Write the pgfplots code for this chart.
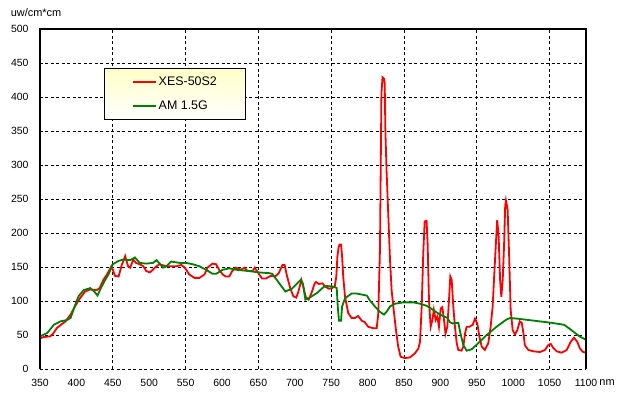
\documentclass[border=0pt]{standalone}
\usepackage{pgfplots}
\pgfplotsset{compat=1.18}
\usepackage{fontspec}
\setmainfont{Liberation Sans}
\definecolor{xesred}{RGB}{255,0,0}
\definecolor{amgreen}{RGB}{0,128,0}
\definecolor{legtop}{RGB}{255,255,200}
\begin{document}
\begin{tikzpicture}
\useasboundingbox (-40bp,-25bp) rectangle (581bp,369bp);
\begin{axis}[
  scale only axis,
  width=546bp, height=340bp,
  xmin=350, xmax=1100, ymin=0, ymax=500,
  xtick={350,400,...,1100},
  ytick={0,50,...,500},
  minor xtick={450,550,650,750,850,950,1050},
  xminorgrids=true, ymajorgrids=true, xmajorgrids=false,
  major tick length=0pt, minor tick length=0pt,
  grid style={black, line width=0.8bp, dash pattern=on 3bp off 2.5bp},
  minor grid style={black, line width=0.8bp, dash pattern=on 3bp off 2.5bp},
  axis line style={draw=none},
  clip=false,
  /pgf/number format/assume math mode=true,
  /pgf/number format/1000 sep={},
  tick label style={font=\fontsize{10.5}{12}\selectfont, black},
  yticklabel style={xshift=-8bp},
  xticklabel style={yshift=-6.5bp},
  every axis y label/.style={at={(axis description cs:-0.06,1.049)}, anchor=west, font=\fontsize{11}{13}\selectfont},
  every axis x label/.style={at={(axis description cs:1.0385,-0.041)}, anchor=center, font=\fontsize{11}{13}\selectfont},
  ylabel={uw/cm*cm},
  xlabel={nm},
  legend cell align=left,
  legend image code/.code={\draw[#1] (0bp,0bp) -- (23bp,0bp);},
  legend style={at={(axis description cs:0.118,0.884)}, anchor=north west,
    draw=black, line width=1bp, top color=legtop, bottom color=white,
    font=\fontsize{12.5}{15}\selectfont, inner xsep=27bp, inner ysep=6bp,
    row sep=10bp},
]
\addplot[xesred, line width=1.8bp] coordinates {
(350,45)(355,47)(364,48)(368,52)(373,60)(380,66)(385,70)(392,80)(398,92)(405,104)
(412,114)(419,117)(428,116)(432,119)(437,131)(442,139)(448,151)(450,146)(453,137)(458,136)
(462,152)(467,166)(471,151)(474,149)(478,161)(482,156)(487,154)(492,151)(496,144)(501,142)
(505,146)(510,151)(514,154)(524,151)(537,151)(544,153)(549,149)(555,139)(562,134)(569,134)
(576,139)(580,149)(587,155)(592,154)(596,146)(601,139)(605,136)(610,136)(614,144)(619,149)
(626,146)(631,149)(635,144)(642,144)(645,149)(648,144)(655,133)(660,133)(667,137)(673,136)
(678,141)(683,153)(686,153)(689,138)(694,118)(698,107)(702,105)(705,114)(709,131)(712,120)
(715,106)(719,102)(723,112)(727,125)(729,128)(733,125)(738,126)(742,121)(747,118)(751,119)
(755,122)(757,136)(758.5,165)(760,178)(761.5,183)(763.5,183)(765,165)(766.5,136)(769,106)(773.5,82)
(778,75)(782.5,75)(787,78)(792,71)(796,69)(801,62)(808,60)(812.5,60)(814.7,82)(817,176)
(818,293)(819,405)(820.5,429)(822.5,427)(823.5,420)(824.4,351)(826,293)(828.5,224)(830.8,160)(833,116)(835.3,92)
(839,57)(842,33)(845.4,18)(851,16)(858,17)(865,23)(869.7,30)(872,40)(874.3,92)(876.5,172)
(878.4,217)(881,218)(882.5,183)(884.3,101)(886.6,62)(889,72)(891,87)(893.5,72)(895.8,77)(898,62)
(900.4,89)(902.6,91)(905,72)(907,52)(909.5,62)(911.8,101)(913.6,136)(915.5,131)(917.7,92)(920,62)
(922.4,38)(924.6,28)(929,27)(931.5,33)(933.8,52)(936,62)(939.7,62)(944.4,65)(947.5,74)(950.7,67)
(953.5,48)(956.7,33)(961,28)(965.8,38)(969,62)(971.8,92)(973.6,131)(976,180)(978,219)(980,195)
(982,131)(983.7,106)(985.6,131)(987.4,180)(989,240)(990,248)(991.5,240)(992.4,233)(994.6,160)(996.5,87)(999.3,57)(1002.5,51)
(1005.6,57)(1009,70)(1011.7,68)(1014,53)(1016,35)(1020.8,28)(1027.6,26)(1036.8,25)(1043.7,28)(1048,35)
(1051.5,37)(1055,31)(1059.6,26)(1066.6,24)(1073.5,28)(1079,40)(1083.5,46)(1088,40)(1091.7,30)(1096,25)
(1100,24)
};
\addlegendentry{XES-50S2}
\addplot[amgreen, line width=1.8bp] coordinates {
(350,48)(360,53)(369,65)(378,70)(387,72)(392,75)(398.6,95)(403,107)(410,116)(419,119)
(424.5,114)(429,108)(432.7,117)(439.5,131)(444,139)(450,154)(458,159)(464.5,161)(473.6,160)(480.5,164)
(487,156)(496,155)(505,156)(510,160)(513.6,156)(519,149)(523.6,151)(530,158)(542,156)(551,156)
(560,154)(569,151)(578,146)(587,140)(592,140)(601,146)(610,148)(619,146)(628,145)(637,144)
(651,142)(664.5,141)(669,140)(678,127)(687,114)(696,118)(708,131)(711,126)(714.5,102)(719,104)
(730.7,112)(740,121)(744,122)(753.7,121)(757.6,119)(759,92)(760.7,71)(763.5,71)(765,92)(769,104)
(778,111)(785,111)(799,108)(803,101)(810,92)(817,84)(822.5,80)(826,84)(830.8,92)(837.6,96)
(849,98)(862.8,98)(872,96)(881,93)(885.7,90)(891,86)(899.5,80)(909.6,75)(913,69)(916.5,67)
(924.6,68)(927,55)(931.5,35)(936,27)(943,29)(952,38)(963.6,50)(977,62)(991,73)(996,75)
(1006,74)(1029,71)(1052,68)(1070,65)(1079,58)(1091,48)(1100,43)
};
\addlegendentry{AM 1.5G}
\draw[black, line width=1.2bp] (350,0) -- (350,500) -- (1100,500) -- (1100,0);
\end{axis}
\end{tikzpicture}
\end{document}
